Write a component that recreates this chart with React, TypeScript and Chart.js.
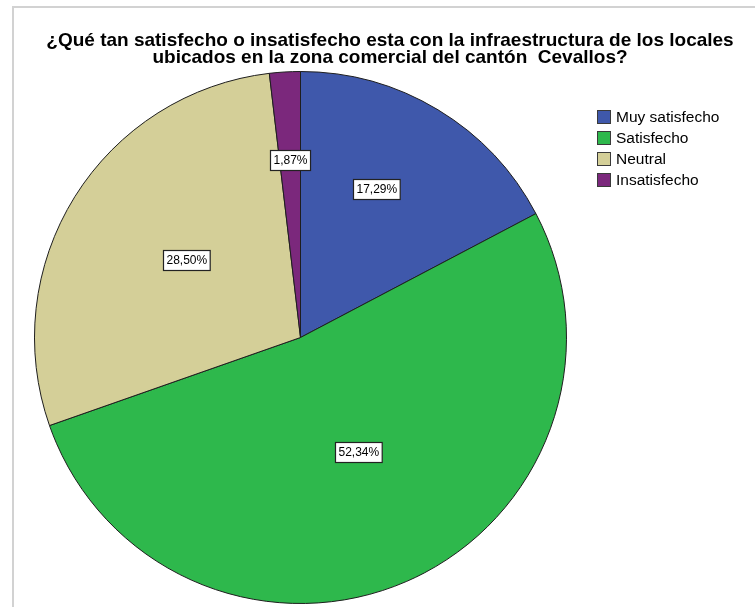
import React, { useEffect, useRef } from "react";
import { Chart, registerables } from "chart.js";

Chart.register(...registerables);

const categories = ["Muy satisfecho", "Satisfecho", "Neutral", "Insatisfecho"];
const percentages = [17.29, 52.34, 28.5, 1.87];
const sliceColors = ["#3f58ab", "#2eb84c", "#d4cf98", "#7b287c"];
const titleLines = [
  "¿Qué tan satisfecho o insatisfecho esta con la infraestructura de los locales",
  "ubicados en la zona comercial del cantón  Cevallos?",
];

// label placement (fraction of radius, angle offset in degrees) for each slice label
const labelPlacement = [
  { r: 0.626, da: -4.2 },
  { r: 0.483, da: -3.1 },
  { r: 0.519, da: 2.1 },
  { r: 0.667, da: 0 },
];

const FONT = "'Liberation Sans', Arial, sans-serif";

const labelPlugin = {
  id: "sliceLabels",
  afterDatasetsDraw(chart: any) {
    const ctx = chart.ctx;
    const meta = chart.getDatasetMeta(0);
    const data = chart.data.datasets[0].data as number[];
    ctx.save();
    ctx.font = `12px ${FONT}`;
    ctx.textAlign = "center";
    ctx.textBaseline = "middle";
    meta.data.forEach((arc: any, i: number) => {
      const p = arc.getProps(["x", "y", "startAngle", "endAngle", "outerRadius"], true);
      const place = labelPlacement[i] || { r: 0.6, da: 0 };
      const mid = (p.startAngle + p.endAngle) / 2 + (place.da * Math.PI) / 180;
      const cx = p.x + Math.cos(mid) * p.outerRadius * place.r;
      const cy = p.y + Math.sin(mid) * p.outerRadius * place.r;
      const text = data[i].toFixed(2).replace(".", ",") + "%";
      const w = ctx.measureText(text).width + 6;
      const h = 20;
      const bx = Math.round(cx - w / 2) + 0.5;
      const by = Math.round(cy - h / 2) + 0.5;
      ctx.fillStyle = "#ffffff";
      ctx.fillRect(bx, by, w, h);
      ctx.strokeStyle = "#222222";
      ctx.lineWidth = 1.2;
      ctx.strokeRect(bx, by, w, h);
      ctx.fillStyle = "#000000";
      ctx.fillText(text, bx + w / 2, by + h / 2 + 0.5);
    });
    ctx.restore();
  },
};

export default function App() {
  const canvasRef = useRef<HTMLCanvasElement | null>(null);

  useEffect(() => {
    if (!canvasRef.current) return;
    const chart = new Chart(canvasRef.current, {
      type: "pie",
      data: {
        labels: categories,
        datasets: [
          {
            data: percentages,
            backgroundColor: sliceColors,
            borderColor: "#1e1e1e",
            borderWidth: 1,
            hoverOffset: 0,
            offset: 0,
          },
        ],
      },
      options: {
        animation: false,
        responsive: true,
        maintainAspectRatio: false,
        layout: { padding: { top: 71, bottom: 3, left: 34, right: 188 } },
        plugins: {
          legend: { display: false },
          title: { display: false },
          tooltip: { enabled: false },
        },
      },
      plugins: [labelPlugin],
    });
    return () => chart.destroy();
  }, []);

  return (
    <div
      style={{
        position: "absolute",
        left: 0,
        top: 0,
        width: 755,
        height: 607,
        overflow: "hidden",
        background: "#ffffff",
      }}
    >
      <div
        style={{
          position: "absolute",
          left: 12,
          top: 6,
          width: 900,
          height: 800,
          borderLeft: "2px solid #d2d2d2",
          borderTop: "2px solid #d2d2d2",
        }}
      />
      <div style={{ position: "absolute", left: 0, top: 0, width: 755, height: 607 }}>
        <canvas ref={canvasRef} />
      </div>
      <div
        style={{
          position: "absolute",
          left: 0,
          top: 31,
          width: 780,
          textAlign: "center",
          fontFamily: FONT,
          fontWeight: "bold",
          fontSize: 19,
          lineHeight: "17px",
          color: "#000",
          whiteSpace: "pre",
        }}
      >
        {titleLines.map((t, i) => (
          <div key={i}>{t}</div>
        ))}
      </div>
      <div style={{ position: "absolute", left: 597, top: 106, fontFamily: FONT, fontSize: 15.5, color: "#000" }}>
        {categories.map((c, i) => (
          <div key={c} style={{ display: "flex", alignItems: "center", height: 21 }}>
            <div
              style={{
                width: 12,
                height: 12,
                background: sliceColors[i],
                border: "1px solid #3a3a3a",
                marginRight: 5,
                flex: "none",
              }}
            />
            <span>{c}</span>
          </div>
        ))}
      </div>
    </div>
  );
}
